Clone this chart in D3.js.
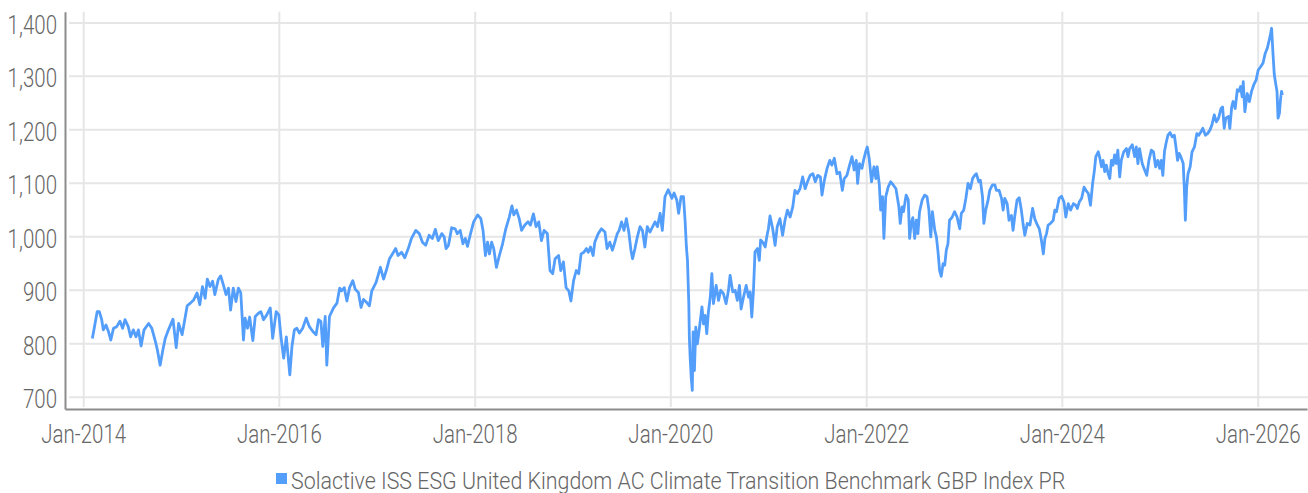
<!DOCTYPE html>
<html>
<head>
<meta charset="utf-8">
<script src="https://cdn.jsdelivr.net/npm/d3@7"></script>
<style>
  body { margin: 0; background: #fff; }
  svg text { font-family: Roboto, "Noto Sans", sans-serif; font-weight: 300; fill: #666; }
</style>
</head>
<body>
<svg id="chart" width="1308" height="493"></svg>
<script>
// series
const seriesName = "Solactive ISS ESG United Kingdom AC Climate Transition Benchmark GBP Index PR";

const dates = [
  "2014-02-04","2014-02-10","2014-02-22","2014-03-02","2014-03-11","2014-03-17","2014-03-27","2014-04-05","2014-04-14","2014-04-24",
  "2014-05-06","2014-05-18","2014-05-28","2014-06-06","2014-06-18","2014-06-27","2014-07-07","2014-07-17","2014-07-26","2014-08-05",
  "2014-08-16","2014-09-02","2014-09-14","2014-09-26","2014-10-05","2014-10-15","2014-10-25","2014-11-03","2014-11-15","2014-12-02",
  "2014-12-14","2014-12-23","2015-01-05","2015-01-14","2015-01-24","2015-02-05","2015-02-17","2015-03-02","2015-03-12","2015-03-22",
  "2015-04-01","2015-04-09","2015-04-19","2015-04-29","2015-05-07","2015-05-20","2015-05-29","2015-06-08","2015-06-18","2015-06-27",
  "2015-07-05","2015-07-15","2015-07-25","2015-08-03","2015-08-12","2015-08-22","2015-08-28","2015-09-06","2015-09-14","2015-09-26",
  "2015-10-05","2015-10-17","2015-10-26","2015-11-05","2015-11-17","2015-11-30","2015-12-09","2015-12-22","2016-01-01","2016-01-09",
  "2016-01-19","2016-01-29","2016-02-11","2016-02-19","2016-02-28","2016-03-08","2016-03-18","2016-03-30","2016-04-12","2016-04-24",
  "2016-05-07","2016-05-19","2016-05-28","2016-06-06","2016-06-13","2016-06-22","2016-06-28","2016-07-08","2016-07-23","2016-08-05",
  "2016-08-15","2016-08-22","2016-09-01","2016-09-11","2016-09-21","2016-10-03","2016-10-12","2016-10-24","2016-11-03","2016-11-12",
  "2016-11-24","2016-12-04","2016-12-13","2016-12-29","2017-01-14","2017-01-26","2017-02-05","2017-02-17","2017-02-28","2017-03-12",
  "2017-03-21","2017-04-03","2017-04-15","2017-04-28","2017-05-10","2017-05-26","2017-06-08","2017-06-20","2017-07-02","2017-07-15",
  "2017-07-27","2017-08-07","2017-08-18","2017-08-31","2017-09-09","2017-09-16","2017-09-25","2017-10-07","2017-10-20","2017-10-28",
  "2017-11-08","2017-11-18","2017-11-27","2017-12-05","2017-12-15","2017-12-28","2018-01-12","2018-01-24","2018-02-01","2018-02-10",
  "2018-02-18","2018-02-25","2018-03-05","2018-03-13","2018-03-23","2018-04-03","2018-04-15","2018-04-27","2018-05-10","2018-05-20",
  "2018-05-27","2018-06-06","2018-06-16","2018-06-25","2018-07-07","2018-07-19","2018-07-28","2018-08-08","2018-08-18","2018-08-28",
  "2018-09-07","2018-09-17","2018-09-29","2018-10-09","2018-10-19","2018-10-28","2018-11-10","2018-11-18","2018-11-28","2018-12-08",
  "2018-12-18","2018-12-26","2019-01-05","2019-01-15","2019-01-24","2019-02-02","2019-02-12","2019-02-22","2019-03-01","2019-03-09",
  "2019-03-19","2019-03-25","2019-04-07","2019-04-19","2019-05-02","2019-05-10","2019-05-20","2019-05-30","2019-06-08","2019-06-17",
  "2019-06-24","2019-07-03","2019-07-12","2019-07-21","2019-07-30","2019-08-07","2019-08-13","2019-08-22","2019-08-31","2019-09-10",
  "2019-09-19","2019-09-28","2019-10-07","2019-10-17","2019-10-27","2019-11-05","2019-11-14","2019-11-24","2019-12-02","2019-12-12",
  "2019-12-24","2020-01-07","2020-01-15","2020-01-25","2020-02-01","2020-02-10","2020-02-19","2020-02-25","2020-03-01","2020-03-05",
  "2020-03-10","2020-03-12","2020-03-15","2020-03-19","2020-03-23","2020-03-26","2020-03-31","2020-04-05","2020-04-11","2020-04-19",
  "2020-04-28","2020-05-04","2020-05-10","2020-05-16","2020-05-22","2020-05-29","2020-06-04","2020-06-10","2020-06-20","2020-06-29",
  "2020-07-07","2020-07-17","2020-07-27","2020-08-05","2020-08-11","2020-08-21","2020-08-30","2020-09-07","2020-09-15","2020-09-21",
  "2020-09-30","2020-10-10","2020-10-19","2020-10-25","2020-10-31","2020-11-06","2020-11-12","2020-11-21","2020-11-28","2020-12-03",
  "2020-12-11","2020-12-20","2020-12-26","2021-01-01","2021-01-07","2021-01-17","2021-01-26","2021-02-03","2021-02-13","2021-02-23",
  "2021-03-04","2021-03-13","2021-03-23","2021-04-02","2021-04-10","2021-04-19","2021-04-29","2021-05-09","2021-05-18","2021-05-27",
  "2021-06-06","2021-06-16","2021-06-25","2021-07-04","2021-07-14","2021-07-20","2021-07-29","2021-08-08","2021-08-18","2021-08-26",
  "2021-09-04","2021-09-14","2021-09-24","2021-10-04","2021-10-11","2021-10-21","2021-10-31","2021-11-09","2021-11-17","2021-11-25",
  "2021-11-30","2021-12-07","2021-12-16","2021-12-22","2021-12-30","2022-01-05","2022-01-12","2022-01-21","2022-01-30","2022-02-06",
  "2022-02-11","2022-02-19","2022-02-24","2022-03-03","2022-03-08","2022-03-15","2022-03-24","2022-04-02","2022-04-12","2022-04-22",
  "2022-05-03","2022-05-08","2022-05-15","2022-05-20","2022-05-30","2022-06-07","2022-06-12","2022-06-18","2022-06-24","2022-07-01",
  "2022-07-07","2022-07-13","2022-07-19","2022-07-29","2022-08-07","2022-08-16","2022-08-23","2022-08-30","2022-09-05","2022-09-14",
  "2022-09-20","2022-09-26","2022-10-02","2022-10-08","2022-10-15","2022-10-21","2022-10-27","2022-11-02","2022-11-08","2022-11-18",
  "2022-11-27","2022-12-06","2022-12-16","2022-12-22","2022-12-31","2023-01-08","2023-01-16","2023-01-25","2023-02-02","2023-02-10",
  "2023-02-16","2023-02-25","2023-03-03","2023-03-11","2023-03-16","2023-03-23","2023-04-01","2023-04-07","2023-04-17","2023-04-26",
  "2023-05-02","2023-05-12","2023-05-21","2023-05-27","2023-06-02","2023-06-11","2023-06-18","2023-06-27","2023-07-03","2023-07-09",
  "2023-07-18","2023-07-26","2023-08-03","2023-08-10","2023-08-16","2023-08-25","2023-09-04","2023-09-14","2023-09-22","2023-09-29",
  "2023-10-09","2023-10-17","2023-10-24","2023-10-30","2023-11-05","2023-11-11","2023-11-20","2023-11-30","2023-12-06","2023-12-12",
  "2023-12-22","2023-12-31","2024-01-09","2024-01-16","2024-01-25","2024-02-03","2024-02-13","2024-02-22","2024-02-28","2024-03-06",
  "2024-03-15","2024-03-24","2024-03-31","2024-04-09","2024-04-17","2024-04-25","2024-05-01","2024-05-07","2024-05-16","2024-05-22",
  "2024-05-28","2024-06-03","2024-06-09","2024-06-15","2024-06-22","2024-06-28","2024-07-04","2024-07-10","2024-07-16","2024-07-22",
  "2024-07-28","2024-08-04","2024-08-10","2024-08-19","2024-08-29","2024-09-04","2024-09-10","2024-09-20","2024-09-29","2024-10-05",
  "2024-10-11","2024-10-17","2024-10-27","2024-11-05","2024-11-13","2024-11-21","2024-11-30","2024-12-08","2024-12-16","2024-12-24",
  "2024-12-31","2025-01-06","2025-01-12","2025-01-18","2025-01-24","2025-01-31","2025-02-08","2025-02-16","2025-02-24","2025-03-02",
  "2025-03-08","2025-03-14","2025-03-20","2025-03-29","2025-04-02","2025-04-06","2025-04-11","2025-04-16","2025-04-24","2025-05-01",
  "2025-05-10","2025-05-19","2025-05-26","2025-06-04","2025-06-10","2025-06-20","2025-06-28","2025-07-07","2025-07-14","2025-07-23",
  "2025-07-31","2025-08-08","2025-08-17","2025-08-23","2025-08-29","2025-09-04","2025-09-14","2025-09-19","2025-09-26","2025-10-01",
  "2025-10-09","2025-10-17","2025-10-23","2025-10-29","2025-11-04","2025-11-08","2025-11-14","2025-11-23","2025-12-01","2025-12-09",
  "2025-12-17","2025-12-26","2026-01-03","2026-01-12","2026-01-21","2026-01-29","2026-02-06","2026-02-15","2026-02-22","2026-02-27",
  "2026-03-04","2026-03-09","2026-03-14","2026-03-18","2026-03-23","2026-03-27","2026-03-31","2026-04-03"
];

const values = [
  809,825,859,859,844,825,834,822,806,828,
  831,841,828,844,831,812,825,812,825,795,
  825,837,828,806,787,759,787,809,825,845,
  792,837,816,841,870,875,881,894,872,906,
  884,920,906,916,891,919,926,909,891,903,
  862,903,878,903,894,806,847,828,849,805,
  850,856,859,844,853,866,809,859,853,812,
  772,812,741,794,825,828,819,828,847,831,
  822,816,844,841,794,850,759,850,866,875,
  903,898,904,879,904,917,901,895,867,882,
  876,870,898,914,942,920,936,958,967,977,
  964,970,960,977,996,1011,1005,989,983,1002,
  996,1013,992,1005,999,977,983,1016,1014,1005,
  1011,986,996,981,1002,1027,1040,1033,1011,964,
  989,967,989,977,942,964,986,1014,1036,1057,
  1040,1049,1033,1011,1021,1027,1021,1042,1018,1027,
  992,1011,1005,936,930,958,964,936,952,904,
  898,879,917,936,930,967,970,977,970,980,
  964,989,1005,1014,1008,977,989,974,989,1005,
  1011,1027,1011,1033,1008,974,958,977,999,1018,
  1011,980,1018,1008,1018,1027,1018,1043,1011,1074,
  1087,1071,1081,1068,1043,1074,1074,1030,980,955,
  874,811,774,736,712,821,749,830,799,830,
  868,836,852,818,858,886,930,874,908,880,
  899,893,874,899,927,896,899,880,908,864,
  886,908,886,896,849,896,971,977,955,993,
  989,980,999,1014,1038,1014,983,1018,1033,1002,
  1030,1049,1036,1055,1086,1080,1089,1111,1089,1102,
  1114,1117,1102,1114,1111,1077,1105,1127,1142,1133,
  1146,1117,1120,1086,1108,1114,1133,1149,1124,1142,
  1099,1136,1127,1142,1158,1167,1146,1102,1130,1108,
  1130,1096,1049,1074,996,1074,1092,1102,1096,1089,
  1055,1024,1055,1046,1077,1068,996,1024,1035,996,
  1030,1005,1046,1068,1077,1074,1049,999,1046,1011,
  999,971,936,925,949,946,974,986,1030,1036,
  1046,1036,1014,1043,1049,1071,1099,1089,1108,1114,
  1117,1102,1105,1074,1024,1049,1068,1086,1096,1096,
  1086,1086,1071,1049,1071,1061,1030,1039,1011,1036,
  1068,1072,1049,1021,1002,1024,1021,1052,1033,1024,
  1014,992,967,996,1005,1021,1024,1030,1049,1046,
  1071,1075,1064,1036,1061,1049,1061,1058,1052,1064,
  1071,1092,1086,1080,1058,1099,1121,1149,1158,1146,
  1130,1142,1121,1133,1117,1108,1142,1133,1152,1136,
  1161,1111,1142,1158,1164,1149,1164,1171,1149,1167,
  1136,1164,1136,1124,1114,1142,1161,1158,1130,1142,
  1127,1142,1114,1158,1174,1189,1194,1186,1189,1167,
  1142,1155,1149,1136,1092,1030,1092,1117,1130,1158,
  1167,1192,1189,1196,1202,1189,1192,1199,1208,1227,
  1214,1221,1239,1242,1202,1221,1224,1202,1242,1252,
  1239,1274,1271,1280,1261,1289,1233,1267,1252,1271,
  1283,1292,1311,1317,1324,1342,1352,1371,1389,1342,
  1302,1286,1271,1221,1230,1255,1271,1264
];

const yTicks = [700, 800, 900, 1000, 1100, 1200, 1300, 1400];
const xTicks = ["2014-01-01", "2016-01-01", "2018-01-01", "2020-01-01", "2022-01-01", "2024-01-01", "2026-01-01"];
const xDomain = ["2013-10-25", "2026-07-04"];
const yDomain = [677, 1420];

const lineColor = "#539dfb";

const svg = d3.select("#chart");
const plot = {left: 65, right: 1307, top: 11.7, bottom: 409};
const parse = d3.utcParse("%Y-%m-%d");

const data = dates.map((d, i) => ({date: parse(d), value: values[i]}));

const x = d3.scaleUtc()
  .domain(xDomain.map(parse))
  .range([plot.left, plot.right]);

const y = d3.scaleLinear()
  .domain(yDomain)
  .range([plot.bottom, plot.top]);

// the original face is a condensed one, so narrow the text around its anchor
function condense(sel, k) {
  sel.each(function() {
    const t = d3.select(this);
    const tx = +t.attr("x") || 0;
    t.attr("x", tx / k).attr("transform", "scale(" + k + ",1)");
  });
}

// horizontal grid
svg.append("g")
  .attr("transform", "translate(69,0)")
  .call(d3.axisLeft(y).tickValues(yTicks).tickSize(-(1308 - 69)).tickFormat(""))
  .call(g => g.select(".domain").remove())
  .call(g => g.selectAll("line").attr("stroke", "#e6e6e6").attr("stroke-width", 2));

// vertical grid
svg.append("g")
  .attr("transform", "translate(0," + (plot.bottom - 2) + ")")
  .call(d3.axisBottom(x).tickValues(xTicks.map(parse)).tickSize(-(plot.bottom - 2 - plot.top)).tickFormat(""))
  .call(g => g.select(".domain").remove())
  .call(g => g.selectAll("line").attr("stroke", "#e6e6e6").attr("stroke-width", 2));

// the series
const line = d3.line()
  .x(d => x(d.date))
  .y(d => y(d.value));

svg.append("path")
  .datum(data)
  .attr("fill", "none")
  .attr("stroke", lineColor)
  .attr("stroke-width", 2.8)
  .attr("stroke-linejoin", "round")
  .attr("d", line);

// y axis
svg.append("g")
  .attr("transform", "translate(" + plot.left + ",0)")
  .call(d3.axisLeft(y).tickValues(yTicks).tickSize(0).tickSizeOuter(0).tickPadding(8).tickFormat(d3.format(",")))
  .call(g => g.select(".domain").attr("stroke", "#8c8c8c").attr("stroke-width", 2))
  .call(g => g.selectAll("text")
    .attr("dy", "0.44em")
    .style("font-size", "25px")
    .attr("fill", "#666")
    .call(condense, 0.82));

// x axis
svg.append("g")
  .attr("transform", "translate(0," + plot.bottom + ")")
  .call(d3.axisBottom(x).tickValues(xTicks.map(parse)).tickSize(0).tickSizeOuter(0).tickPadding(16).tickFormat(d3.utcFormat("%b-%Y")))
  .call(g => g.select(".domain").attr("stroke", "#8c8c8c").attr("stroke-width", 2))
  .call(g => g.selectAll("text")
    .style("font-size", "25px")
    .attr("fill", "#666")
    .call(condense, 0.82));

// legend
const legend = svg.append("g").attr("transform", "translate(276,473)");
legend.append("rect")
  .attr("width", 11)
  .attr("height", 11)
  .attr("fill", lineColor);
legend.append("text")
  .attr("x", 15)
  .attr("y", 16)
  .style("font-size", "23.5px")
  .call(condense, 0.91)
  .text(seriesName);
</script>
</body>
</html>
